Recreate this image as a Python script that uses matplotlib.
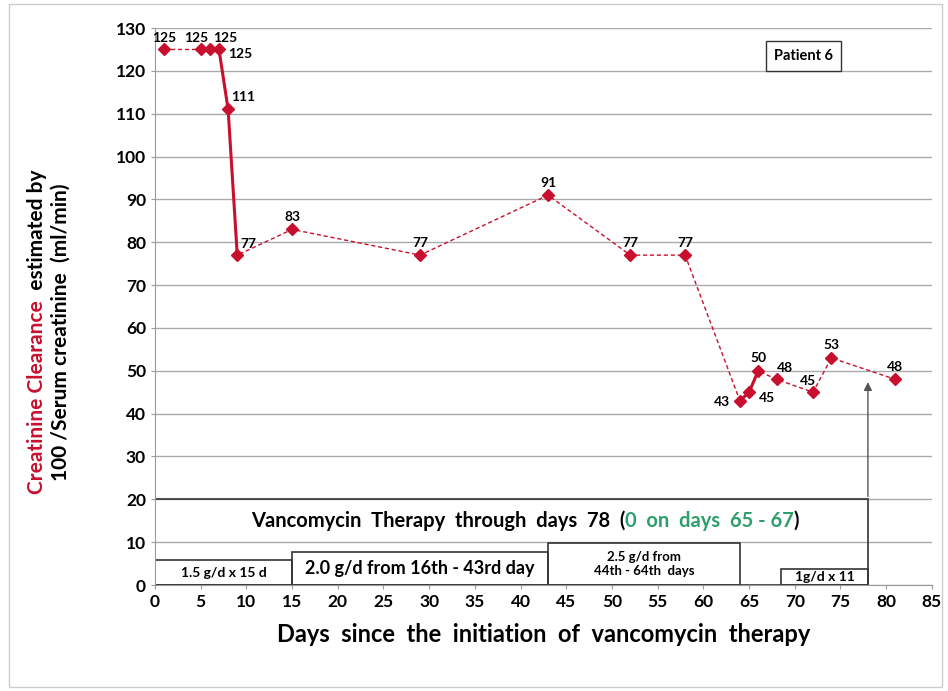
import matplotlib.pyplot as plt
from matplotlib.patches import Rectangle

days = [1, 5, 6, 7, 8, 9, 15, 29, 43, 52, 58, 64, 65, 66, 68, 72, 74, 81]
clearance = [125, 125, 125, 125, 111, 77, 83, 77, 91, 77, 77, 43, 45, 50, 48, 45, 53, 48]
# label offsets (points) for each data label
label_offsets = [(0, 8), (-3, 8), (11, 8), (15, -3), (11, 9), (8, 8), (0, 9), (0, 9), (0, 9),
                 (0, 9), (0, 9), (-13, -1), (13, -4), (0, 9), (6, 8), (-4, 8), (0, 9), (0, 9)]
# segments drawn solid (indices into the series)
solid_segments = [(3, 5), (11, 13)]

dose_boxes = [(0, 15, 5.8, "1.5 g/d x 15 d", 10), (15, 43, 7.6, "2.0 g/d from 16th - 43rd day", 13),
              (43, 64, 9.8, "2.5 g/d from\n44th - 64th  days", 9.5), (68.5, 78, 3.8, "1g/d x 11", 10)]

red = "#c8102e"
plt.rcParams["font.family"] = ["Lato", "DejaVu Sans"]

fig = plt.figure(figsize=(9.48, 6.91), dpi=100)
ax = fig.add_axes([0.1635, 0.1534, 0.8195, 0.806])

# dashed connection everywhere, solid where noted
ax.plot(days, clearance, color=red, lw=1, ls=(0, (3, 2)), zorder=3)
for a, b in solid_segments:
    ax.plot(days[a:b + 1], clearance[a:b + 1], color=red, lw=2.2, zorder=3)
ax.plot(days, clearance, ls="none", marker="D", ms=6.5, color=red, zorder=4)

for d, v, off in zip(days, clearance, label_offsets):
    ax.annotate(str(v), (d, v), xytext=off, textcoords="offset points",
                ha="center", va="center", fontsize=10, fontweight="bold")

# therapy boxes
ax.add_patch(Rectangle((0, 0), 78, 20, fill=False, ec="#333333", lw=1.2, zorder=2))
for x0, x1, h, txt, fs in dose_boxes:
    ax.add_patch(Rectangle((x0, 0), x1 - x0, h, fill=False, ec="#333333", lw=1.2, zorder=2))
    ax.text((x0 + x1) / 2, h / 2, txt, ha="center", va="center", fontsize=fs, fontweight="bold")

ax.annotate("", xy=(78, 48), xytext=(78, 20),
            arrowprops=dict(arrowstyle="-|>", color="#555555", lw=1, mutation_scale=12))

ax.text(71, 123.5, "Patient 6", ha="center", va="center", fontsize=10.5, fontweight="bold",
        bbox=dict(boxstyle="square,pad=0.55", fc="white", ec="#333333", lw=1))

ax.set_xlim(0, 85)
ax.set_ylim(0, 130)
ax.set_xticks(range(0, 86, 5))
ax.set_yticks(range(0, 131, 10))
ax.tick_params(labelsize=12.5, length=3, color="#999999")
for lab in ax.get_xticklabels() + ax.get_yticklabels():
    lab.set_fontweight("bold")
ax.grid(axis="y", color="#aaaaaa", lw=1)
ax.set_axisbelow(True)
for s in ["top", "right"]:
    ax.spines[s].set_visible(False)
ax.spines["left"].set_color("#999999")
ax.spines["bottom"].set_color("#999999")
ax.set_xlabel("Days  since  the  initiation  of  vancomycin  therapy", fontsize=17,
              fontweight="bold", labelpad=9)

fig.canvas.draw()
renderer = fig.canvas.get_renderer()


def colored_line(x, y, parts, size, rotation=0):
    # place pieces of text end to end, in figure pixel coordinates
    pos = y
    for txt, col in parts:
        t = fig.text(x / fig.bbox.width, pos / fig.bbox.height, txt, color=col, rotation=rotation,
                     rotation_mode="anchor", ha="left", va="center", fontsize=size,
                     fontweight="bold")
        pos += t.get_window_extent(renderer).height


def colored_hline(x, y, parts, size):
    pos = x
    for txt, col in parts:
        t = fig.text(pos / fig.bbox.width, y / fig.bbox.height, txt, color=col,
                     ha="left", va="center", fontsize=size, fontweight="bold")
        pos += t.get_window_extent(renderer).width


def measure(strings, size, rotation=0):
    tmp = [fig.text(0, 0, s, fontsize=size, rotation=rotation, fontweight="bold") for s in strings]
    ext = [t.get_window_extent(renderer) for t in tmp]
    for t in tmp:
        t.remove()
    return [e.height if rotation == 90 else e.width for e in ext]


# y label, two lines, first part red
ysize = 15
line1 = [("Creatinine Clearance", red), ("  estimated by", "black")]
line2 = [("100 /Serum creatinine  (ml/min)", "black")]
lens = measure([s for s, _ in line1 + line2], ysize, rotation=90)
cy = 691 - 332
colored_line(37, cy - (lens[0] + lens[1]) / 2, line1, ysize, rotation=90)
colored_line(61, cy - lens[2] / 2, line2, ysize, rotation=90)

# therapy title, partly green
tsize = 14.5
title = [("Vancomycin  Therapy  through  days  78  (", "black"),
         ("0  on  days  65 - 67", "#2e9e6a"), (")", "black")]
w = sum(measure([s for s, _ in title], tsize))
colored_hline(525 - w / 2, 691 - 521, title, tsize)

fig.add_artist(Rectangle((0.009, 0.006), 0.985, 0.988, transform=fig.transFigure,
                         fill=False, ec="#cccccc", lw=1))

fig.savefig("out.png", dpi=100)
